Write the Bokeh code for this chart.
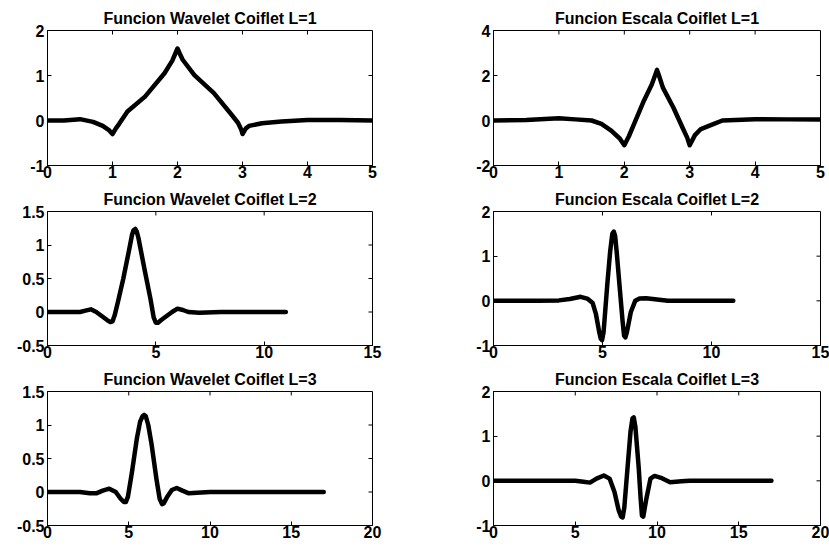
from bokeh.plotting import figure
from bokeh.layouts import column, row
from bokeh.models import Range1d, FixedTicker
from bokeh.embed import file_html
from bokeh.resources import INLINE

# ---------------- data ----------------
titles = ["Funcion Wavelet Coiflet L=1", "Funcion Escala Coiflet L=1",
          "Funcion Wavelet Coiflet L=2", "Funcion Escala Coiflet L=2",
          "Funcion Wavelet Coiflet L=3", "Funcion Escala Coiflet L=3"]

w1_x = [0, 0.25, 0.5, 0.7, 0.85, 0.95, 1.0, 1.05, 1.1, 1.23, 1.5, 1.8, 1.92, 1.97, 2.0, 2.03,
        2.08, 2.26, 2.56, 2.82, 2.93, 2.98, 3.0, 3.05, 3.1, 3.3, 3.6, 4.0, 4.5, 5.0]
w1_y = [0, 0.0, 0.03, -0.03, -0.12, -0.22, -0.3, -0.18, -0.08, 0.2, 0.53, 1.05, 1.33, 1.5, 1.6, 1.5,
        1.35, 1.01, 0.61, 0.15, -0.05, -0.2, -0.3, -0.18, -0.12, -0.06, -0.02, 0.01, 0.01, 0.0]

s1_x = [0, 0.5, 1.0, 1.25, 1.5, 1.65, 1.8, 1.93, 2.0, 2.07, 2.15, 2.3, 2.42, 2.47, 2.5, 2.53,
        2.59, 2.75, 2.9, 2.96, 3.0, 3.08, 3.17, 3.37, 3.5, 4.0, 4.5, 5.0]
s1_y = [0, 0.02, 0.1, 0.05, 0.0, -0.15, -0.45, -0.8, -1.1, -0.7, -0.15, 0.88, 1.6, 2.0, 2.25, 2.0,
        1.46, 0.58, -0.38, -0.75, -1.1, -0.65, -0.38, -0.15, 0.0, 0.06, 0.05, 0.04]

w2_x = [0, 1.5, 1.75, 2.0, 2.25, 2.5, 2.75, 2.9, 3.0, 3.1, 3.25, 3.5, 3.75, 3.9, 3.97, 4.05,
        4.12, 4.2, 4.5, 4.75, 4.9, 5.0, 5.1, 5.25, 5.5, 5.75, 6.0, 6.25, 6.5, 7.0, 8.0, 9.0,
        10.0, 11.0]
w2_y = [0, 0.0, 0.02, 0.04, 0.0, -0.06, -0.12, -0.15, -0.14, -0.05, 0.15, 0.5, 0.9, 1.15, 1.22, 1.24,
        1.2, 1.1, 0.6, 0.2, -0.08, -0.16, -0.16, -0.12, -0.06, 0.0, 0.05, 0.03, 0.0, -0.01, 0.0, 0.0,
        0.0, 0.0]

s2_x = [0, 2.0, 3.0, 3.5, 4.0, 4.3, 4.55, 4.7, 4.85, 4.92, 4.98, 5.05, 5.22, 5.35, 5.45, 5.52,
        5.58, 5.65, 5.78, 5.92, 5.99, 6.05, 6.12, 6.3, 6.5, 6.7, 7.0, 7.5, 8.0, 9.0, 10.0, 11.0]
s2_y = [0, 0.0, 0.01, 0.04, 0.09, 0.05, -0.05, -0.3, -0.7, -0.85, -0.88, -0.7, 0.37, 1.1, 1.5, 1.55,
        1.45, 1.1, 0.35, -0.45, -0.78, -0.82, -0.7, -0.25, 0.0, 0.05, 0.06, 0.03, 0.0, 0.0, 0.0, 0.0]

w3_x = [0, 2.0, 2.6, 3.0, 3.4, 3.8, 4.2, 4.5, 4.7, 4.82, 4.95, 5.2, 5.5, 5.7, 5.85, 5.95,
        6.05, 6.2, 6.4, 6.7, 6.9, 7.05, 7.15, 7.35, 7.65, 7.95, 8.3, 8.7, 9.2, 10.0, 12.0, 14.0,
        17.0]
w3_y = [0, 0.0, -0.02, -0.02, 0.02, 0.05, 0.0, -0.1, -0.15, -0.15, -0.07, 0.3, 0.8, 1.05, 1.13, 1.15,
        1.13, 1.0, 0.72, 0.2, -0.1, -0.18, -0.17, -0.08, 0.03, 0.06, 0.02, -0.02, -0.01, 0.0, 0.0, 0.0,
        0.0]

s3_x = [0, 4.0, 5.0, 5.5, 5.9, 6.3, 6.75, 7.1, 7.4, 7.65, 7.8, 7.9, 8.0, 8.2, 8.38, 8.5,
        8.58, 8.68, 8.88, 9.0, 9.08, 9.16, 9.35, 9.6, 9.85, 10.3, 10.8, 11.5, 12.0, 14.0, 17.0]
s3_y = [0, 0.0, 0.0, -0.02, -0.04, 0.05, 0.12, 0.05, -0.25, -0.65, -0.8, -0.82, -0.6, 0.3, 1.1, 1.4,
        1.42, 1.2, 0.3, -0.4, -0.78, -0.8, -0.4, 0.05, 0.11, 0.06, -0.03, -0.01, 0.0, 0.0, 0.0]

xs = [w1_x, s1_x, w2_x, s2_x, w3_x, s3_x]
ys = [w1_y, s1_y, w2_y, s2_y, w3_y, s3_y]

x_ticks = [[0, 1, 2, 3, 4, 5], [0, 1, 2, 3, 4, 5],
           [0, 5, 10, 15], [0, 5, 10, 15],
           [0, 5, 10, 15, 20], [0, 5, 10, 15, 20]]
x_labels = [[str(t) for t in tk] for tk in x_ticks]
y_ticks = [[-1, 0, 1, 2], [-2, 0, 2, 4],
           [-0.5, 0, 0.5, 1, 1.5], [-1, 0, 1, 2],
           [-0.5, 0, 0.5, 1, 1.5], [-1, 0, 1, 2]]
y_labels = [["-1", "0", "1", "2"], ["-2", "0", "2", "4"],
            ["-0.5", "0", "0.5", "1", "1.5"], ["-1", "0", "1", "2"],
            ["-0.5", "0", "0.5", "1", "1.5"], ["-1", "0", "1", "2"]]

# ---------------- styling / layout ----------------
FONT = "Liberation Sans"
FS = "16px"
FRAME_H = 135
frame_w = [325, 327]
row_tops = [30, 26, 26]
row_bottoms = [19, 19, 23]
col_left = [47, 81]
col_right = [40, 9]
TICK = 4


def make_panel(i):
    r, c = divmod(i, 2)
    xt, yt = x_ticks[i], y_ticks[i]
    w = col_left[c] + frame_w[c] + col_right[c]
    h = row_tops[r] + FRAME_H + row_bottoms[r]
    p = figure(width=w, height=h, output_backend="svg", toolbar_location=None,
               x_range=Range1d(xt[0], xt[-1]), y_range=Range1d(yt[0], yt[-1]),
               min_border_left=col_left[c], min_border_right=col_right[c],
               min_border_top=row_tops[r], min_border_bottom=row_bottoms[r],
               background_fill_color="white", border_fill_color="white")
    p.title.text = titles[i]
    p.title.align = "center"
    p.title.text_font = FONT
    p.title.text_font_size = FS
    p.title.text_font_style = "bold"
    p.title.standoff = 8
    p.title.text_color = "black"

    # inward tick marks on the top and right edges (MATLAB box style)
    dy = TICK / FRAME_H * (yt[-1] - yt[0])
    dx = TICK / frame_w[c] * (xt[-1] - xt[0])
    inner_x = xt[1:-1]
    inner_y = yt[1:-1]
    p.segment(x0=inner_x, x1=inner_x, y0=[yt[-1]] * len(inner_x),
              y1=[yt[-1] - dy] * len(inner_x), line_color="black", line_width=1)
    p.segment(x0=[xt[-1]] * len(inner_y), x1=[xt[-1] - dx] * len(inner_y),
              y0=inner_y, y1=inner_y, line_color="black", line_width=1)

    p.line(xs[i], ys[i], line_width=4.5, line_color="black", line_join="round", line_cap="round")

    p.xgrid.visible = False
    p.ygrid.visible = False
    p.outline_line_color = "black"
    p.outline_line_width = 1
    p.outline_line_alpha = 1

    for ax, ticks, labels, stand in ((p.xaxis[0], xt, x_labels[i], 0),
                                     (p.yaxis[0], yt, y_labels[i], 3)):
        ax.ticker = FixedTicker(ticks=ticks)
        ax.major_label_overrides = {t: l for t, l in zip(ticks, labels)}
        ax.major_label_text_font = FONT
        ax.major_label_text_font_size = FS
        ax.major_label_text_font_style = "bold"
        ax.major_label_text_color = "black"
        ax.major_label_standoff = stand
        ax.major_tick_in = TICK
        ax.major_tick_out = 0
        ax.minor_tick_line_color = None
        ax.axis_line_color = "black"
        ax.major_tick_line_color = "black"
    return p


panels = [make_panel(i) for i in range(6)]
layout = column(row(panels[0], panels[1], spacing=0),
                row(panels[2], panels[3], spacing=0),
                row(panels[4], panels[5], spacing=0), spacing=0)

open("out.html", "w").write(file_html(layout, INLINE))
